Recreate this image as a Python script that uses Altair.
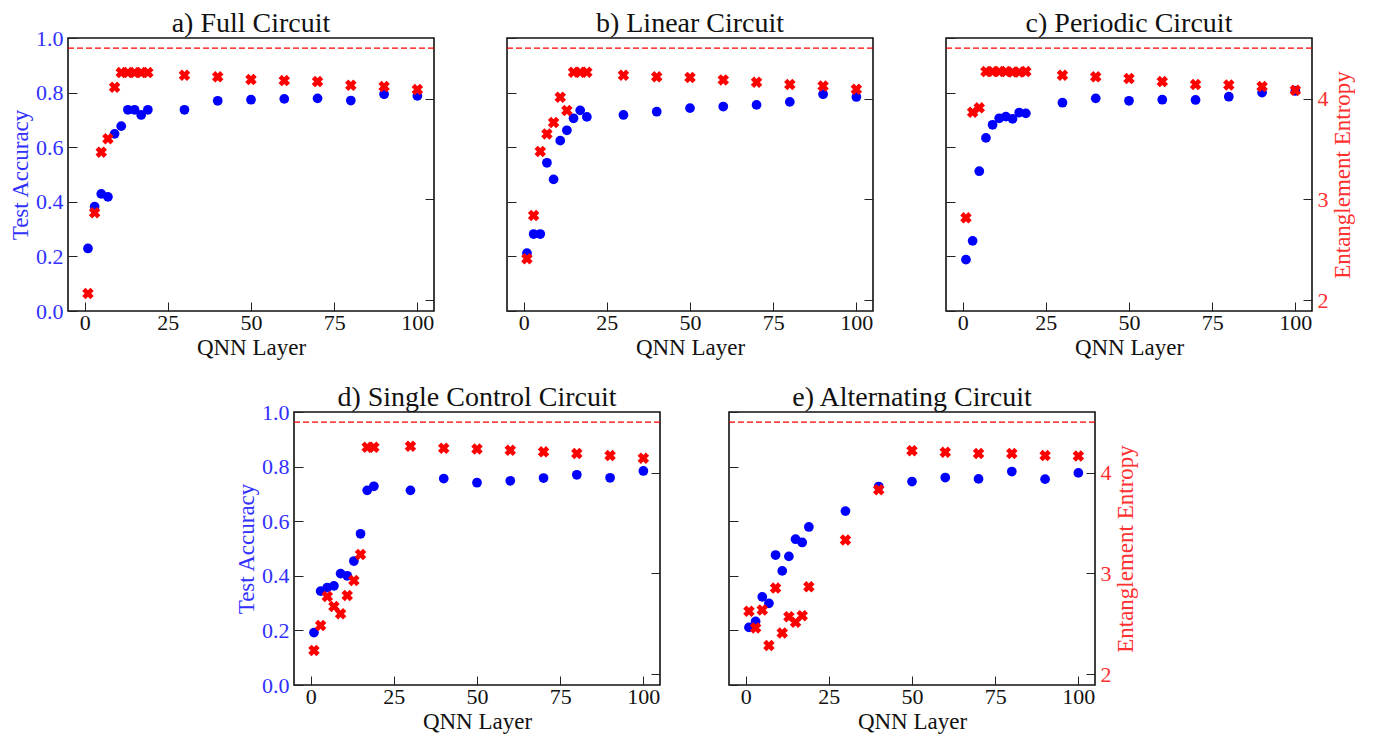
import altair as alt
import pandas as pd

FONT = "Liberation Serif"

layers = [1, 3, 5, 7, 9, 11, 13, 15, 17, 19, 30, 40, 50, 60, 70, 80, 90, 100]

titles = ["a) Full Circuit", "b) Linear Circuit", "c) Periodic Circuit",
          "d) Single Control Circuit", "e) Alternating Circuit"]

acc_a = [0.229, 0.382, 0.429, 0.418, 0.649, 0.677, 0.737, 0.737, 0.718, 0.737,
         0.737, 0.770, 0.774, 0.777, 0.779, 0.771, 0.794, 0.788]
ent_a = [2.069, 2.868, 3.469, 3.601, 4.112, 4.257, 4.257, 4.257, 4.257, 4.257,
         4.231, 4.215, 4.188, 4.178, 4.168, 4.132, 4.119, 4.089]

acc_b = [0.212, 0.282, 0.282, 0.543, 0.482, 0.624, 0.662, 0.706, 0.735, 0.711,
         0.718, 0.730, 0.743, 0.749, 0.755, 0.766, 0.794, 0.784]
ent_b = [2.413, 2.842, 3.475, 3.650, 3.762, 4.013, 3.881, 4.261, 4.261, 4.261,
         4.231, 4.215, 4.208, 4.185, 4.162, 4.139, 4.125, 4.092]

acc_c = [0.188, 0.257, 0.512, 0.634, 0.682, 0.706, 0.712, 0.704, 0.727, 0.724,
         0.763, 0.779, 0.770, 0.774, 0.773, 0.785, 0.800, 0.806]
ent_c = [2.818, 3.865, 3.908, 4.267, 4.267, 4.267, 4.267, 4.262, 4.262, 4.267,
         4.231, 4.215, 4.198, 4.168, 4.139, 4.135, 4.119, 4.083]

acc_d = [0.192, 0.344, 0.357, 0.363, 0.408, 0.400, 0.454, 0.554, 0.713, 0.728,
         0.713, 0.756, 0.741, 0.748, 0.758, 0.770, 0.759, 0.784]
ent_d = [2.238, 2.485, 2.772, 2.673, 2.601, 2.782, 2.931, 3.188, 4.251, 4.251,
         4.261, 4.241, 4.234, 4.221, 4.205, 4.188, 4.168, 4.142]

acc_e = [0.211, 0.233, 0.323, 0.299, 0.476, 0.418, 0.471, 0.534, 0.522, 0.579,
         0.637, 0.727, 0.745, 0.760, 0.755, 0.782, 0.754, 0.777]
ent_e = [2.625, 2.461, 2.638, 2.286, 2.855, 2.411, 2.572, 2.516, 2.582, 2.868,
         3.332, 3.829, 4.217, 4.201, 4.188, 4.188, 4.168, 4.164]

max_entropy = 4.5

acc_ticks = [0.0, 0.2, 0.4, 0.6, 0.8, 1.0]
ent_ticks = [2, 3, 4]
layer_ticks = [0, 25, 50, 75, 100]

BLUE_TXT = "#3030ff"
RED_TXT = "#ff3030"
W, H = 366, 273


def panel(acc, ent, title, show_left, show_right):
    df = pd.DataFrame({"layer": layers, "acc": acc, "ent": ent})
    x = alt.X("layer:Q",
              scale=alt.Scale(domain=[-5, 105], nice=False, zero=False),
              axis=alt.Axis(values=layer_ticks, title="QNN Layer", orient="bottom",
                            offset=-9, tickSize=9, domain=False, grid=False,
                            labelFlush=False, labelFont=FONT, labelFontSize=22,
                            labelColor="#111", labelPadding=1,
                            titleFont=FONT, titleFontSize=23, titleFontWeight="normal",
                            titleColor="#111", titlePadding=3,
                            tickColor="#222", tickWidth=1))
    left_kw = dict(values=acc_ticks, format=".1f", orient="left", offset=-9, tickSize=9,
                   domain=False, grid=False, labels=show_left, labelFont=FONT,
                   labelFontSize=22, labelColor=BLUE_TXT, labelPadding=5,
                   tickColor="#222", tickWidth=1, labelFlush=False)
    if show_left:
        left_kw.update(title="Test Accuracy", titleFont=FONT, titleFontSize=23,
                       titleFontWeight="normal", titleColor=BLUE_TXT, titlePadding=3)
    else:
        left_kw.update(title=None)
    right_kw = dict(values=ent_ticks, format="d", orient="right", offset=-9, tickSize=9,
                    domain=False, grid=False, labels=show_right, labelFont=FONT,
                    labelFontSize=22, labelColor=RED_TXT, labelPadding=5,
                    tickColor="#222", tickWidth=1, labelFlush=False)
    if show_right:
        right_kw.update(title="Entanglement Entropy", titleFont=FONT, titleFontSize=23,
                        titleFontWeight="normal", titleColor=RED_TXT, titlePadding=3,
                        titleAngle=270, titleBaseline="top")
    else:
        right_kw.update(title=None)

    ent_scale = alt.Scale(domain=[1.895, 4.6], nice=False, zero=False)
    base = alt.Chart(df)
    blue = base.mark_point(filled=True, shape="circle", size=95, color="#0000ff",
                           opacity=1).encode(
        x=x,
        y=alt.Y("acc:Q", scale=alt.Scale(domain=[0, 1], nice=False, zero=False),
                axis=alt.Axis(**left_kw)))
    red = base.mark_point(filled=True, shape="cross", angle=45, size=135, color="#ff0000",
                          opacity=1).encode(
        x=x,
        y=alt.Y("ent:Q", scale=ent_scale, axis=alt.Axis(**right_kw)))
    rule = alt.Chart(pd.DataFrame({"ent": [max_entropy]})).mark_rule(
        color="#ff0000", strokeDash=[6, 3], strokeWidth=1.4).encode(
        y=alt.Y("ent:Q", scale=ent_scale, axis=None))
    return alt.layer(blue, red, rule).resolve_scale(y="independent").properties(
        width=W, height=H,
        title=alt.TitleParams(text=title, font=FONT, fontSize=28, fontWeight="normal",
                              color="#111", anchor="middle", offset=0, frame="group",
                              dy=11 if show_left else 0))


pa = panel(acc_a, ent_a, titles[0], True, False)
pb = panel(acc_b, ent_b, titles[1], False, False)
pc = panel(acc_c, ent_c, titles[2], False, True)
pd_ = panel(acc_d, ent_d, titles[3], True, False)
pe = panel(acc_e, ent_e, titles[4], False, True)

spacer = alt.Chart(pd.DataFrame({"v": [0]})).mark_point(opacity=0).encode(
    x=alt.value(0), y=alt.value(0)).properties(
    width=100, height=1, view=alt.ViewBackground(stroke="transparent"))

top = alt.hconcat(pa, pb, pc, spacing=69)
bottom = alt.hconcat(spacer, pd_, pe, spacing=65)
chart = alt.vconcat(top, bottom, spacing=22).properties(
    padding=0, background="white").configure_view(stroke="#111", strokeWidth=1.6)

chart.save("out.html", embed_options={"renderer": "svg", "actions": False})
